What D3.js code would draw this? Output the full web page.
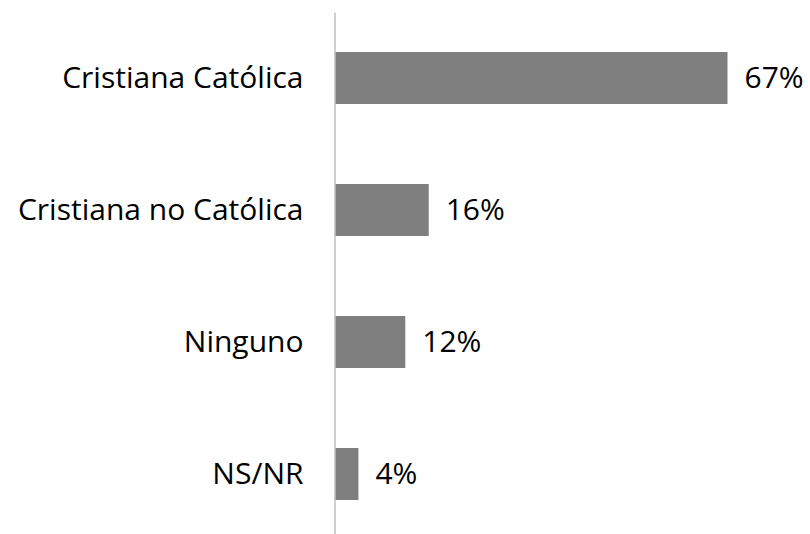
<!DOCTYPE html>
<html>
<head>
<meta charset="utf-8">
<script src="https://cdn.jsdelivr.net/npm/d3@7"></script>
<style>
  body { margin: 0; background: white; }
</style>
</head>
<body>
<div id="plot"></div>
<script>
// data
const categories = ["Cristiana Católica", "Cristiana no Católica", "Ninguno", "NS/NR"];
const values = [67, 16, 12, 4];

const width = 810, height = 534;
const x0 = 335;

const svg = d3.select("div#plot")
              .append("svg")
              .attr("width", width)
              .attr("height", height)
              .style("background-color", "white");

const xScale = d3.scaleLinear()
                 .domain([0, 67])
                 .range([x0, 727.5]);

const yScale = d3.scaleBand()
                 .domain(categories)
                 .range([12, 540])
                 .paddingInner(0.606)
                 .paddingOuter(0.303);

// bars
svg.selectAll("rect.bar")
   .data(values)
   .enter()
   .append("rect")
   .attr("class", "bar")
   .attr("x", xScale(0))
   .attr("y", (d, i) => yScale(categories[i]))
   .attr("width", d => xScale(d) - xScale(0))
   .attr("height", yScale.bandwidth())
   .attr("fill", "#7f7f7f");

// axis line + category labels
const yAxis = d3.axisLeft(yScale).tickSize(0).tickPadding(31);
const g = svg.append("g")
   .attr("class", "y-axis")
   .attr("transform", "translate(" + (x0 - 0.5) + ",0)")
   .call(yAxis);
g.select("path").attr("stroke", "#bfbfbf").attr("stroke-width", 1.5);
g.selectAll("text")
 .attr("fill", "#000")
 .attr("dy", "0.33em")
 .attr("font-family", "'Open Sans', 'Noto Sans', sans-serif")
 .attr("font-size", "30px");

// value labels
svg.selectAll("text.value")
   .data(values)
   .enter()
   .append("text")
   .attr("class", "value")
   .attr("x", d => xScale(d) + 17)
   .attr("y", (d, i) => yScale(categories[i]) + yScale.bandwidth() / 2)
   .attr("dy", "0.33em")
   .attr("fill", "#000")
   .attr("font-family", "'Open Sans', 'Noto Sans', sans-serif")
   .attr("font-size", "30px")
   .text(d => d + "%");
</script>
</body>
</html>
